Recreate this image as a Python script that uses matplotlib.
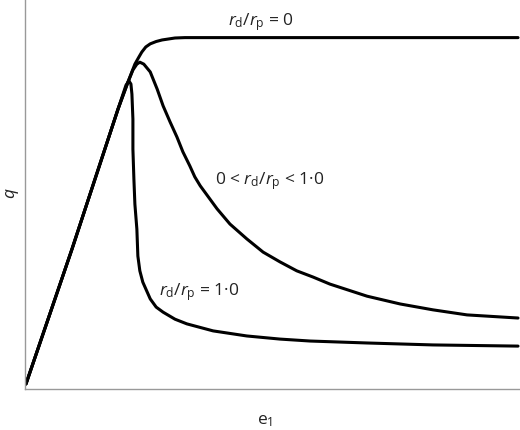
import numpy as np
import matplotlib.pyplot as plt

plt.rcParams['font.family'] = ['Open Sans', 'DejaVu Sans']
plt.rcParams['mathtext.fontset'] = 'custom'
plt.rcParams['mathtext.rm'] = 'Open Sans'
plt.rcParams['mathtext.it'] = 'Open Sans:italic'

# curva rd/rp = 0 (sem dilatancia)
x_topo = [0.02, 0.95, 1.88, 2.08, 2.22, 2.30, 2.36, 2.44, 2.53, 2.65, 2.77, 3.03, 3.23, 9.96]
q_topo = [0.13, 3.59, 7.18, 7.87, 8.33, 8.51, 8.64, 8.77, 8.85, 8.91, 8.95, 9.00, 9.01, 9.01]

# curva 0 < rd/rp < 1.0
x_meio = [0.02, 0.95, 1.88, 2.08, 2.18, 2.26, 2.32, 2.40, 2.53, 2.67, 2.79, 2.93, 3.07, 3.19,
          3.33, 3.43, 3.54, 3.88, 4.14, 4.48, 4.81, 5.15, 5.49, 5.82, 6.16, 6.91, 7.58, 8.24,
          8.93, 9.96]
q_meio = [0.13, 3.59, 7.18, 7.87, 8.18, 8.33, 8.38, 8.33, 8.13, 7.69, 7.26, 6.85, 6.46, 6.08,
          5.72, 5.44, 5.21, 4.62, 4.23, 3.85, 3.51, 3.26, 3.03, 2.87, 2.69, 2.38, 2.18, 2.03,
          1.90, 1.82]

# curva rd/rp = 1.0
x_baixo = [0.02, 0.95, 1.88, 2.04, 2.10, 2.14, 2.16, 2.18, 2.18, 2.20, 2.22, 2.26, 2.28, 2.32,
           2.38, 2.53, 2.65, 2.79, 3.03, 3.27, 3.80, 4.48, 5.15, 5.76, 6.91, 8.24, 9.96]
q_baixo = [0.13, 3.59, 7.18, 7.79, 7.90, 7.82, 7.56, 6.92, 6.15, 5.38, 4.74, 4.10, 3.41, 3.03,
           2.74, 2.31, 2.10, 1.97, 1.79, 1.67, 1.49, 1.36, 1.28, 1.23, 1.18, 1.13, 1.10]

rotulos = [r'$r_\mathrm{d}/r_\mathrm{p}$ = 0',
           r'0 < $r_\mathrm{d}/r_\mathrm{p}$ < 1·0',
           r'$r_\mathrm{d}/r_\mathrm{p}$ = 1·0']
pos_rotulos = [(4.77, 9.44), (4.95, 5.36), (3.52, 2.51)]

fig = plt.figure(figsize=(5.2, 4.31), dpi=100)
ax = fig.add_axes([25/520, 41/431, 495/520, 390/431])

for xs, qs in [(x_topo, q_topo), (x_meio, q_meio), (x_baixo, q_baixo)]:
    ax.plot(xs, qs, color='black', lw=2.2, solid_joinstyle='round', solid_capstyle='round')

for txt, (px, py) in zip(rotulos, pos_rotulos):
    ax.text(px, py, txt, fontsize=12.5, ha='center', va='center', color='#222222')

ax.set_xlim(0, 10)
ax.set_ylim(0, 10)
ax.set_xticks([])
ax.set_yticks([])
for s in ['top', 'right']:
    ax.spines[s].set_visible(False)
for s in ['left', 'bottom']:
    ax.spines[s].set_color('#999999')
    ax.spines[s].set_linewidth(1.0)

ax.set_xlabel(r'$\mathrm{e}_1$', fontsize=12.5, color='#222222')
ax.xaxis.set_label_coords(0.485, -0.059)
ax.set_ylabel(r'$q$', fontsize=12.5, color='#222222')
ax.yaxis.set_label_coords(-0.008, 0.505)

fig.savefig('out.png', dpi=100)
